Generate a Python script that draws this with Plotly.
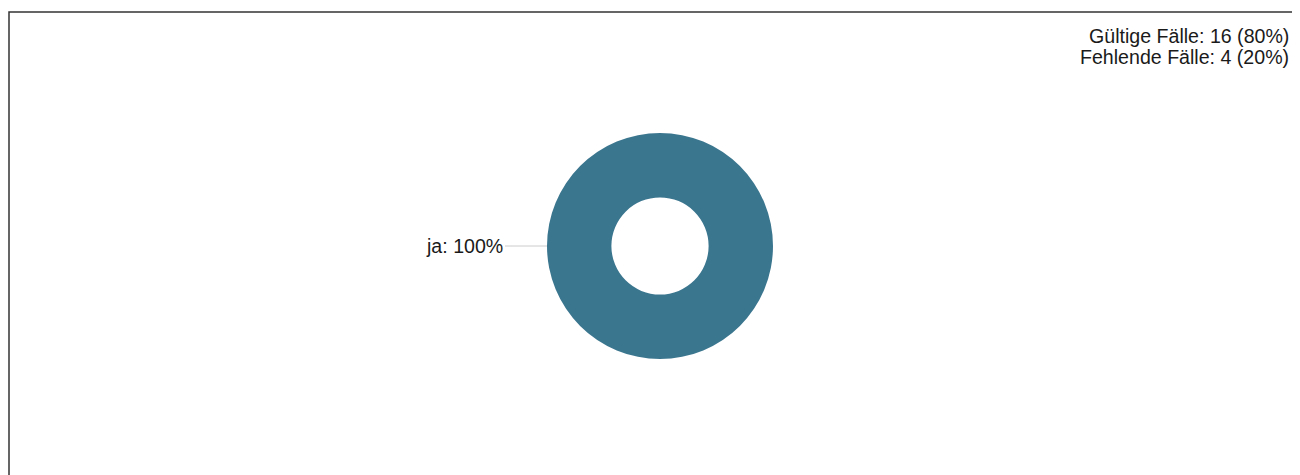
import plotly.graph_objects as go

labels = ["ja"]
values = [16]
percent_labels = ["100%"]
info_lines = ["Gültige Fälle: 16 (80%)", "Fehlende Fälle: 4 (20%)"]

W, H = 1292, 467
cx, cy, R = 652, 238, 113
dom_x = [(cx - R) / W, (cx + R) / W]
dom_y = [(H - cy - R) / H, (H - cy + R) / H]

fig = go.Figure(go.Pie(
    labels=labels, values=values, hole=0.43, sort=False,
    marker=dict(colors=["#3b768f"], line=dict(width=0)),
    textinfo="none", hoverinfo="label+percent",
    domain=dict(x=dom_x, y=dom_y), showlegend=False,
))

font = dict(family="Liberation Sans, Arial, sans-serif", size=19.6, color="#1a1a1a")

fig.add_annotation(
    x=dom_x[0], y=(dom_y[0] + dom_y[1]) / 2, xref="paper", yref="paper",
    text=f"{labels[0]}: {percent_labels[0]}", showarrow=True, arrowhead=0,
    arrowwidth=1, arrowcolor="#cccccc", ax=-42, ay=0, xanchor="right",
    standoff=0, startstandoff=0, font=font,
)
for i, line in enumerate(info_lines):
    fig.add_annotation(
        x=1, y=1, xref="paper", yref="paper", xanchor="right", yanchor="top",
        yshift=-16 - 21 * i, xshift=-10, text=line, showarrow=False,
        align="right", font=font, borderpad=0,
    )
fig.add_shape(type="rect", xref="paper", yref="paper",
              x0=1 / W, x1=1.05, y0=-0.05, y1=1 - 4 / H,
              line=dict(color="#333333", width=1.5))

fig.update_layout(width=W, height=H, margin=dict(l=0, r=0, t=0, b=0),
                  paper_bgcolor="white", plot_bgcolor="white")
fig.write_html("out.html")
